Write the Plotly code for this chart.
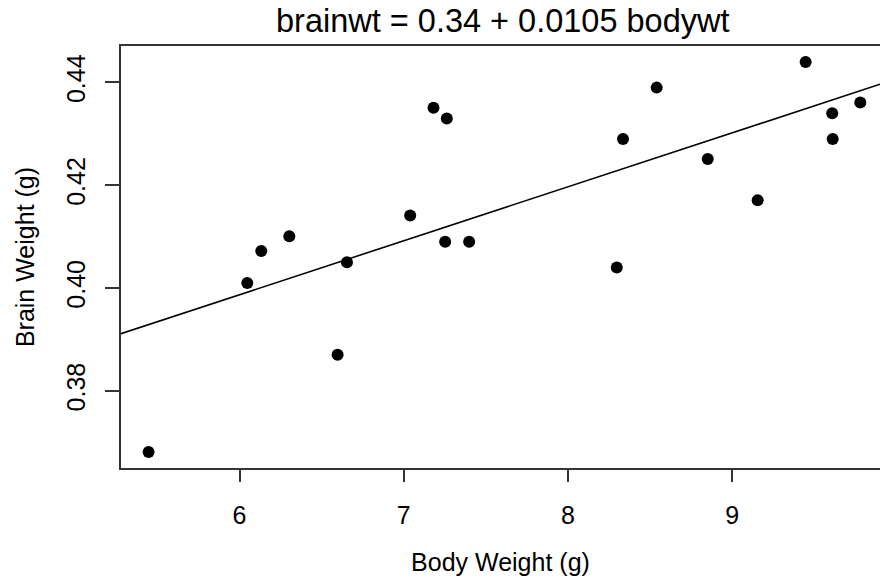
import numpy as np
import plotly.graph_objects as go

body_wt = [5.446, 6.047, 6.132, 6.303, 6.597, 6.654, 7.039, 7.181, 7.252, 7.262,
           7.398, 8.297, 8.335, 8.540, 8.851, 9.155, 9.447, 9.609, 9.612, 9.780]
brain_wt = [0.3681, 0.4010, 0.4072, 0.4101, 0.3870, 0.4050, 0.4141, 0.4351, 0.4090, 0.4330,
            0.4090, 0.4040, 0.4290, 0.4390, 0.4251, 0.4171, 0.4440, 0.4340, 0.4290, 0.4361]
intercept = 0.3357
slope = 0.0105
x_range = [5.278, 9.90]
y_range = [0.36498, 0.4471]
x_ticks = [6, 7, 8, 9]
y_ticks = [0.38, 0.40, 0.42, 0.44]
y_tick_text = ["0.38", "0.40", "0.42", "0.44"]

font = "Liberation Sans, Arial, sans-serif"

line_x = np.array(x_range)
line_y = intercept + slope * line_x

fig = go.Figure()
fig.add_trace(go.Scatter(x=line_x, y=line_y, mode="lines",
                         line=dict(color="black", width=1.6), showlegend=False))
fig.add_trace(go.Scatter(x=body_wt, y=brain_wt, mode="markers",
                         marker=dict(color="black", size=12), showlegend=False))

fig.update_layout(
    width=880, height=581,
    margin=dict(l=121, r=0, t=46, b=113),
    paper_bgcolor="white", plot_bgcolor="white",
    font=dict(family=font, color="black"),
    title=dict(text="brainwt = 0.34 + 0.0105 bodywt", x=0.503, xref="paper",
               xanchor="center", y=1, yref="container", yanchor="top",
               pad=dict(t=9), font=dict(size=32.5, color="black")),
)
fig.update_xaxes(range=x_range, tickvals=x_ticks, ticks="outside", ticklen=12,
                 tickwidth=1.5, tickcolor="#333", showgrid=False, zeroline=False,
                 showline=True, linecolor="#333", linewidth=1.8, mirror=True,
                 tickfont=dict(size=25), ticklabelstandoff=12,
                 title=dict(text="Body Weight (g)", font=dict(size=25), standoff=26))
fig.update_yaxes(range=y_range, tickvals=y_ticks, ticktext=y_tick_text, ticks="outside",
                 ticklen=14, tickwidth=1.5, tickcolor="#333", showgrid=False,
                 zeroline=False, showline=True, linecolor="#333", linewidth=1.8,
                 mirror=False, tickangle=-90, tickfont=dict(size=25),
                 ticklabelstandoff=10,
                 title=dict(text="Brain Weight (g)", font=dict(size=25), standoff=20))

fig.write_html("out.html")
